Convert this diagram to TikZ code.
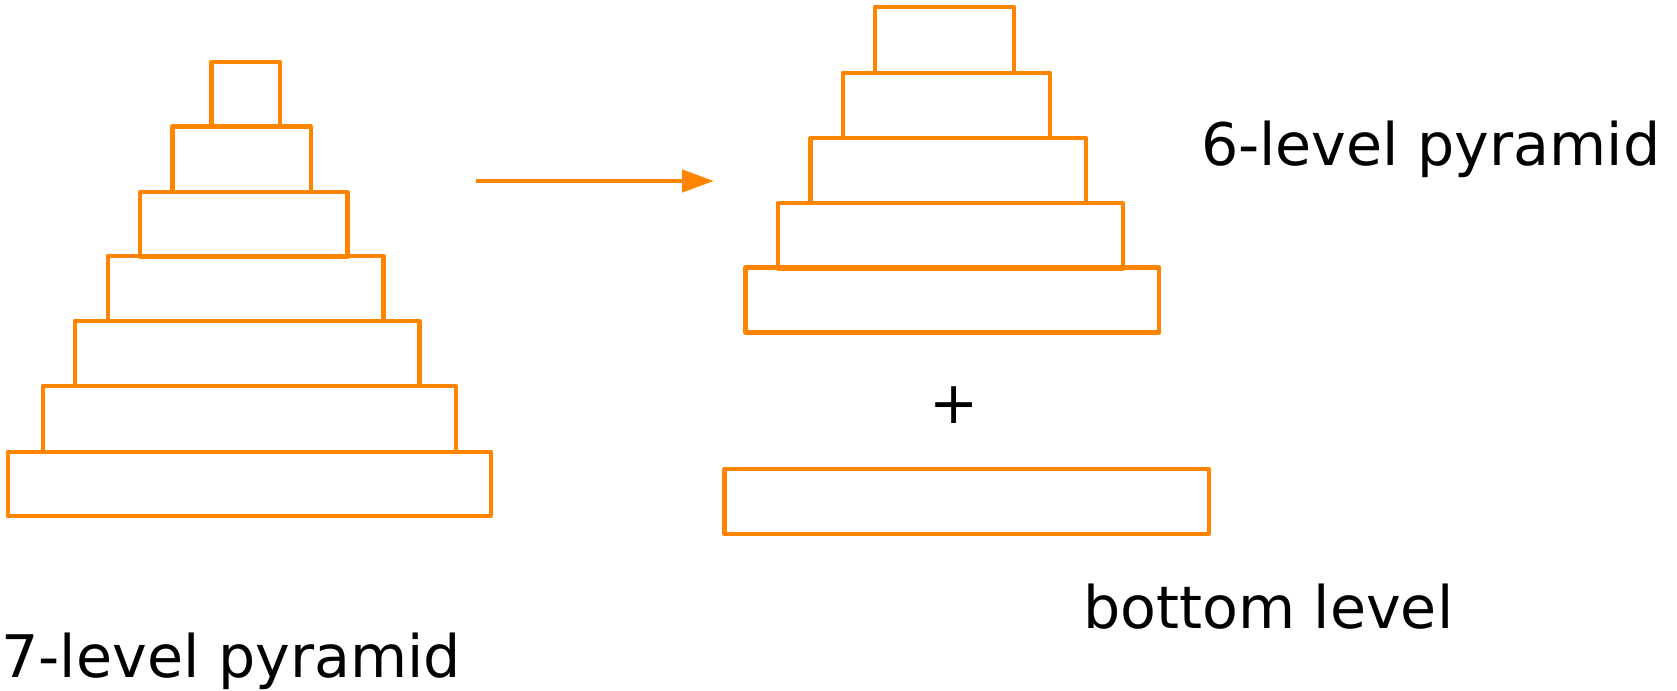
\documentclass[tikz,border=0pt]{standalone}
\usepackage{fontspec}
\setmainfont{DejaVu Sans}
\usetikzlibrary{arrows.meta}
\definecolor{pyrorange}{RGB}{255,133,0}
\newcommand{\lvl}[5]{%
  \pgfmathsetmacro{\lvlw}{0.75*(#4-#2)}%
  \pgfmathsetmacro{\lvlh}{0.75*(#5-#3)}%
  \node[blk, minimum width=\lvlw pt, minimum height=\lvlh pt] (#1) at ({(#2+#4)/2},{(#3+#5)/2}) {};}
\begin{document}
\begin{tikzpicture}[x=0.75pt, y=-0.75pt,
  blk/.style={draw=pyrorange, line width=3.3pt, line join=round, inner sep=0pt, outer sep=0pt, rectangle, fill=none},
  lbl/.style={font=\fontsize{44}{52}\selectfont, inner sep=0pt, outer sep=0pt, text=black},
  conn/.style={draw=pyrorange, line width=3.3pt, -{Triangle[length=24pt, width=16.5pt]}}]
\useasboundingbox (0,0) rectangle (1677,690);
% 7-level pyramid
\lvl{a7}{7.7}{451.7}{490.7}{516}
\lvl{a6}{42.7}{386}{455.7}{451.7}
\lvl{a5}{75}{320.7}{419.3}{386}
\lvl{a4}{107.7}{255.7}{383.3}{320.7}
\lvl{a3}{140}{192}{347.3}{256.7}
\lvl{a2}{172.3}{126.3}{310.7}{192}
\lvl{a1}{211.3}{62}{280}{126.3}
% 6-level pyramid
\lvl{b5}{745.5}{267.5}{1159}{332.5}
\lvl{b4}{778}{203}{1123}{268.5}
\lvl{b3}{810.5}{138}{1086}{203}
\lvl{b2}{842.8}{72.7}{1050}{138}
\lvl{b1}{875}{7}{1014}{72.7}
% bottom level
\lvl{c}{724.3}{469}{1209}{534}
% arrow
\coordinate (as) at (475.5,181);
\coordinate (ae) at (714,181);
\draw[conn] (as) -- (ae);
% labels
\node[lbl, anchor=base] (plus) at (954.3,423) {+};
\node[lbl, anchor=base west] (t6) at (1201,165) {6-level pyramid};
\node[lbl, anchor=base west] (t7) at (1.5,677.3) {7-level pyramid};
\node[lbl, anchor=base west] (tb) at (1083,628.3) {bottom level};
\end{tikzpicture}
\end{document}
